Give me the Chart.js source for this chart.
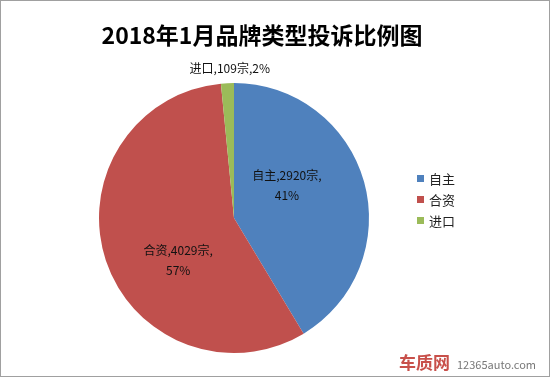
<!DOCTYPE html>
<html>
<head>
<meta charset="utf-8">
<script src="https://cdn.jsdelivr.net/npm/chart.js@4"></script>
<style>
  html, body { margin: 0; padding: 0; background: #fff; }
  #wrap { position: relative; width: 548px; height: 375px; border: 1px solid #a0a0a0; }
</style>
</head>
<body>
<div id="wrap"><canvas id="pie" width="548" height="375"></canvas></div>
<script>
let labels = ['自主', '合资', '进口'];
let counts = [2920, 4029, 109];
let percents = ['41%', '57%', '2%'];
let sliceColors = ['#4F81BD', '#C0504D', '#9BBB59'];

const fontFamily = '"Noto Sans CJK SC", "Microsoft YaHei", sans-serif';
// label placement: radius fraction and angle shift (degrees) from the slice middle
const labelPlace = [[0.46, -16], [0.52, -19], [1.1, 0]];

const extras = {
    id: 'extras',
    afterDraw(chart) {
        const ctx = chart.ctx;
        ctx.save();

        ctx.fillStyle = '#000';
        ctx.font = 'bold 23px ' + fontFamily;
        ctx.textAlign = 'center';
        ctx.textBaseline = 'middle';
        ctx.fillText('2018年1月品牌类型投诉比例图', 261, 34);

        // legend
        ctx.font = '13px ' + fontFamily;
        ctx.textAlign = 'left';
        labels.forEach((l, i) => {
            const y = 178 + i * 21;
            ctx.fillStyle = sliceColors[i];
            ctx.fillRect(416, y - 4, 7, 7);
            ctx.fillStyle = '#222';
            ctx.fillText(l, 428, y);
        });

        // slice labels
        ctx.font = '12px ' + fontFamily;
        ctx.textAlign = 'center';
        ctx.fillStyle = '#111';
        const meta = chart.getDatasetMeta(0);
        meta.data.forEach((arc, i) => {
            const mid = (arc.startAngle + arc.endAngle) / 2 + labelPlace[i][1] * Math.PI / 180;
            const r = arc.outerRadius * labelPlace[i][0];
            const x = arc.x + Math.cos(mid) * r;
            const y = arc.y + Math.sin(mid) * r;
            if (i === 2) {
                ctx.fillText(labels[i] + ',' + counts[i] + '宗,' + percents[i], x + 3, y - 1);
            } else {
                ctx.fillText(labels[i] + ',' + counts[i] + '宗,', x, y - 10);
                ctx.fillText(percents[i], x, y + 10);
            }
        });

        // watermark
        ctx.textAlign = 'left';
        ctx.font = 'bold 17px ' + fontFamily;
        ctx.fillStyle = '#c8504a';
        ctx.fillText('车质网', 398, 362);
        ctx.font = '11px ' + fontFamily;
        ctx.fillStyle = '#777';
        ctx.fillText('12365auto.com', 456, 364);

        ctx.restore();
    }
};

new Chart(document.getElementById('pie'), {
    type: 'pie',
    data: {
        labels: labels,
        datasets: [{
            data: counts,
            backgroundColor: sliceColors,
            borderWidth: 0
        }]
    },
    options: {
        responsive: false,
        animation: false,
        layout: { padding: { left: 98, right: 180, top: 82, bottom: 23 } },
        plugins: {
            legend: { display: false },
            tooltip: { enabled: false }
        }
    },
    plugins: [extras]
});
</script>
</body>
</html>
